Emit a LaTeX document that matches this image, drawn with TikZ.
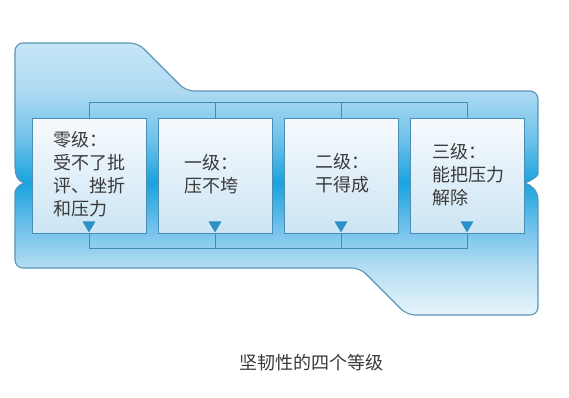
\documentclass[tikz,border=0pt]{standalone}
\usepackage{fontspec}
\newfontfamily\cjk{Noto Sans CJK SC}
\usetikzlibrary{calc}

% palette
\definecolor{edgeblue}{HTML}{5A95B6}
\definecolor{boxedge}{HTML}{4A8EB6}
\definecolor{busblue}{HTML}{3F8CB5}
\definecolor{triblue}{HTML}{2A90C8}
\definecolor{boxtop}{HTML}{F6FAFD}
\definecolor{boxbot}{HTML}{CCE5F4}
\definecolor{inktext}{HTML}{3A3A3A}
\definecolor{bandA}{HTML}{C6E6F7}
\definecolor{bandA2}{HTML}{AEDAF2}
\definecolor{bandC2}{HTML}{6EC1EA}
\definecolor{bandB}{HTML}{1AA3DE}
\definecolor{bandC}{HTML}{6CBFEA}
\definecolor{bandD}{HTML}{B6DDF3}
\definecolor{bandE}{HTML}{E6F4FB}

% vertical band: pale at top and bottom, saturated blue through the middle
\pgfdeclareverticalshading{bandfill}{100bp}{%
  color(0bp)=(bandE); color(25bp)=(bandE); color(33.6bp)=(bandD);
  color(41.5bp)=(bandC); color(49.4bp)=(bandB); color(57.2bp)=(bandC2);
  color(66.2bp)=(bandA2); color(75bp)=(bandA); color(100bp)=(bandA)}

\tikzset{
  outerband/.style={shading=bandfill, draw=edgeblue, line width=1.1pt},
  levelbox/.style={draw=boxedge, line width=0.9pt, top color=boxtop,
    bottom color=boxbot, minimum width=114pt, minimum height=115pt,
    inner sep=0pt},
  bus/.style={draw=busblue, line width=1pt},
  tri/.style={fill=triblue},
  leveltext/.style={anchor=base west, inner sep=0pt, text=inktext,
    text width=100pt, align=left, font=\cjk\fontsize{18}{23}\selectfont},
  caption/.style={inner sep=0pt, text=inktext,
    font=\cjk\fontsize{18}{22}\selectfont}
}

\begin{document}
\begin{tikzpicture}[x=1pt,y=-1pt]
\useasboundingbox (0,0) rectangle (569,397);
\fill[white] (0,0) rectangle (569,397);

% outer band with the stepped outline and side notches
\path[outerband]
  (15,166) [rounded corners=8pt] -- (15,43) -- (138,43) -- (186,91)
  -- (538,91) -- (538,166) [sharp corners]
  .. controls (538,176) and (531,181) .. (525,183)
  .. controls (531,185) and (538,190) .. (538,200)
  [rounded corners=8pt] -- (538,315) -- (407,315) -- (360,268)
  -- (15,268) -- (15,200) [sharp corners]
  .. controls (15,190) and (18,185) .. (24,183)
  .. controls (18,181) and (15,176) .. (15,166) -- cycle;

% the four level boxes
\node[levelbox] (b1) at (89,175.5) {};
\node[levelbox] (b2) at (215,175.5) {};
\node[levelbox] (b3) at (341,175.5) {};
\node[levelbox] (b4) at (467,175.5) {};

% buses above and below the boxes
\foreach \i in {1,2,3,4} {
  \coordinate (t\i) at ($(b\i.north)+(0,-15)$);
  \coordinate (u\i) at ($(b\i.south)+(0,15)$);
}
\draw[bus] (b1.north) -- (t1) -- (t4) -- (b4.north);
\draw[bus] (b2.north) -- (t2);
\draw[bus] (b3.north) -- (t3);
\draw[bus] (b1.south) -- (u1) -- (u4) -- (b4.south);
\draw[bus] (b2.south) -- (u2);
\draw[bus] (b3.south) -- (u3);

% downward markers at the foot of each box
\foreach \i in {1,2,3,4} {
  \fill[tri] ($(b\i.south)+(-6.5,-12)$) -- ($(b\i.south)+(6.5,-12)$)
    -- ($(b\i.south)+(0,-1)$) -- cycle;
}

% level texts
\node[leveltext] (l0) at (53,146.8) {零级：\\受不了批\\评、挫折\\和压力};
\node[leveltext] (l1) at (184,169.8) {一级：\\压不垮};
\node[leveltext] (l2) at (315,168.8) {二级：\\干得成};
\node[leveltext] (l3) at (432,158.8) {三级：\\能把压力\\解除};

% caption
\node[caption] (cap) at (311,363) {坚韧性的四个等级};
\end{tikzpicture}
\end{document}
